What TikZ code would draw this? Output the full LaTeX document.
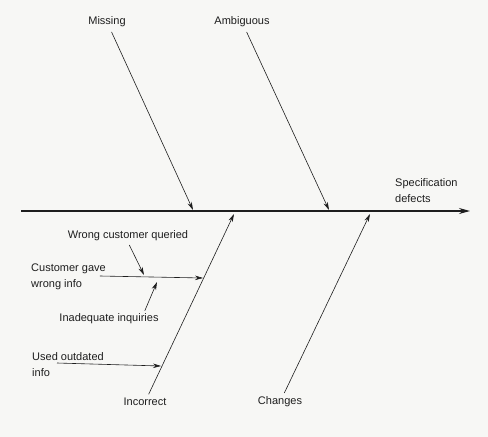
\documentclass[tikz,border=0pt]{standalone}
\usepackage{fontspec}
\setmainfont{Liberation Sans}
\usetikzlibrary{arrows.meta,calc}
\definecolor{paper}{RGB}{247,247,245}
\definecolor{inkgray}{RGB}{30,30,30}

\begin{document}
\begin{tikzpicture}[x=1pt, y=-1pt,
    lbl/.style={font=\fontsize{11}{15.5}\selectfont, text=inkgray, inner sep=1pt},
    bone/.style={-{Stealth[length=8pt, width=4.5pt]}, line width=0.6pt, inkgray},
    spine/.style={-{Stealth[length=11pt, width=6pt]}, line width=1.3pt, inkgray}
]
\fill[paper] (0,0) rectangle (488,437);
\useasboundingbox (0,0) rectangle (488,437);
% spine and effect
\coordinate (tail) at (21,211);
\coordinate (head) at (470,211);
\draw[spine] (tail) -- (head);
\node[lbl, anchor=west, align=left] (spec) at (394,190.5) {Specification\\defects};
% main causes
\node[lbl] (missing) at (107,22) {Missing};
\node[lbl] (ambig) at (242,22) {Ambiguous};
\node[lbl] (incorrect) at (145,402) {Incorrect};
\node[lbl] (changes) at (280,402) {Changes};
\coordinate (m) at (193,210);
\coordinate (a) at (329,210);
\coordinate (i) at (234,214);
\coordinate (c) at (370,214);
\draw[bone, shorten <=4pt] (missing) -- (m);
\draw[bone, shorten <=4pt] (ambig) -- (a);
\draw[bone, shorten <=3pt] (incorrect) -- (i);
\draw[bone, shorten <=3pt] (changes) -- (c);
% sub causes of incorrect
\node[lbl, anchor=west, align=left] (gave) at (30,277) {Customer gave\\wrong info};
\node[lbl, anchor=west, align=left] (outdated) at (31,364.5) {Used outdated\\info};
\node[lbl] (wrongcust) at (128,236) {Wrong customer queried};
\node[lbl] (inadequate) at (109,319) {Inadequate inquiries};
\coordinate (g) at (203,278);
\coordinate (u) at (161,366);
\coordinate (w) at (144,275);
\coordinate (q) at (157,282);
\draw[bone] ([xshift=-7pt,yshift=1pt]gave.east) -- (g);
\draw[bone] ([xshift=26pt,yshift=1.5pt]outdated.west) -- (u);
\draw[bone, shorten <=3pt] (wrongcust.south) -- (w);
\draw[bone, shorten <=2pt] ([xshift=35pt]inadequate.north) -- (q);
\end{tikzpicture}
\end{document}
